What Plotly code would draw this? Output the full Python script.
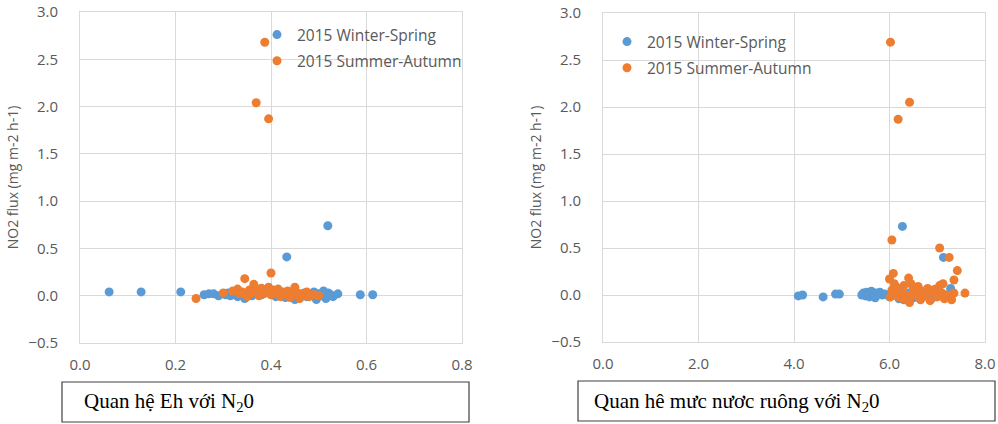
import plotly.graph_objects as go

# ---------------- data ----------------
# Left panel: Eh vs NO2 flux
eh_ws_x = [0.061, 0.128, 0.211, 0.433, 0.519, 0.587, 0.613,
           0.26, 0.27, 0.28, 0.29, 0.30, 0.305, 0.31, 0.315, 0.32, 0.325, 0.33, 0.34,
           0.345, 0.35, 0.36, 0.37, 0.38, 0.39, 0.40, 0.41, 0.42, 0.43, 0.44, 0.45,
           0.455, 0.46, 0.47, 0.475, 0.48, 0.49, 0.495, 0.50, 0.505, 0.51, 0.515,
           0.52, 0.525, 0.53, 0.54]
eh_ws_y = [0.04, 0.04, 0.04, 0.41, 0.74, 0.01, 0.01,
           0.01, 0.02, 0.02, 0.00, 0.02, 0.01, 0.03, 0.00, 0.02, 0.01, -0.01, 0.02,
           -0.03, 0.01, 0.00, 0.03, 0.01, 0.06, 0.02, -0.01, 0.03, -0.02, 0.01, -0.04,
           0.02, -0.02, 0.03, -0.01, 0.00, 0.04, -0.04, 0.02, 0.00, 0.05, -0.03,
           0.03, 0.01, -0.01, 0.02]

eh_sa_x = [0.387, 0.369, 0.395, 0.40, 0.345, 0.364, 0.243,
           0.30, 0.32, 0.33, 0.335, 0.34, 0.35, 0.355, 0.36, 0.37, 0.375, 0.38, 0.385,
           0.39, 0.395, 0.40, 0.405, 0.41, 0.415, 0.42, 0.425, 0.43, 0.435, 0.44,
           0.445, 0.45, 0.455, 0.46, 0.465, 0.47, 0.475, 0.48, 0.49, 0.50]
eh_sa_y = [2.68, 2.04, 1.87, 0.24, 0.18, 0.12, -0.03,
           0.03, 0.05, 0.07, 0.02, 0.04, -0.01, 0.06, 0.03, 0.05, 0.00, 0.08, 0.02,
           0.04, 0.09, 0.01, 0.06, 0.03, 0.07, -0.01, 0.04, 0.02, 0.05, -0.02,
           0.01, 0.09, 0.03, -0.03, 0.02, 0.00, 0.04, -0.01, 0.01, 0.00]

# Right panel: field water level vs NO2 flux
wl_ws_x = [4.09, 4.18, 4.61, 4.87, 4.95, 5.42, 5.45, 5.50, 5.52, 5.55, 5.58, 5.60,
           5.62, 5.65, 5.70, 5.72, 5.80, 5.85, 5.90, 6.00, 6.10, 6.20, 6.27, 6.30,
           6.40, 6.50, 6.60, 6.70, 6.80, 6.90, 7.00, 7.13, 7.20, 7.28, 7.30]
wl_ws_y = [-0.01, 0.00, -0.02, 0.01, 0.01, 0.00, 0.02, -0.01, 0.03, 0.00, -0.02, 0.02,
           0.04, 0.00, -0.03, 0.02, 0.03, 0.00, 0.01, -0.02, 0.00, -0.04, 0.73, -0.05,
           0.02, -0.03, 0.01, -0.02, 0.00, -0.03, 0.02, 0.40, 0.00, 0.07, 0.01]

wl_sa_x = [6.02, 6.18, 6.42, 6.05, 7.05, 7.25, 7.42, 7.35, 7.58,
           6.00, 6.05, 6.08, 6.10, 6.12, 6.15, 6.20, 6.25, 6.30, 6.35, 6.40, 6.42,
           6.45, 6.50, 6.55, 6.60, 6.65, 6.70, 6.75, 6.80, 6.85, 6.90, 6.95, 7.00,
           7.05, 7.10, 7.15, 7.20, 7.30, 7.35, 6.02, 6.28, 6.48, 6.62, 6.78, 7.12]
wl_sa_y = [2.69, 1.87, 2.05, 0.585, 0.50, 0.40, 0.26, 0.16, 0.02,
           0.17, 0.05, 0.23, 0.12, 0.00, 0.08, -0.02, 0.04, 0.10, 0.00, 0.18, -0.08,
           0.12, 0.06, 0.02, 0.09, -0.05, 0.04, 0.00, 0.07, -0.06, 0.03, 0.06, -0.02,
           0.10, 0.02, -0.04, 0.00, -0.05, 0.02, -0.02, -0.04, 0.00, -0.03, 0.05, 0.12]

series_names = ["2015 Winter-Spring", "2015 Summer-Autumn"]
y_title = "NO2 flux (mg m-2 h-1)"
caption_left = "Quan hệ Eh với N<sub>2</sub>0"
caption_right = "Quan hê mưc nươc ruông với N<sub>2</sub>0"

# ---------------- figure ----------------
W, H = 998, 424
BLUE = "#5B9BD5"
ORANGE = "#ED7D31"
GRID = "#D9D9D9"
TXT = "#595959"

def px_x(p):
    return p / W

def px_y(p):
    return 1 - p / H

fig = go.Figure()
marker_kw = dict(size=9, line=dict(width=0))

fig.add_trace(go.Scatter(x=eh_ws_x, y=eh_ws_y, mode="markers", name=series_names[0],
                         marker=dict(color=BLUE, **marker_kw), xaxis="x", yaxis="y",
                         legend="legend", legendgroup="a"))
fig.add_trace(go.Scatter(x=eh_sa_x, y=eh_sa_y, mode="markers", name=series_names[1],
                         marker=dict(color=ORANGE, **marker_kw), xaxis="x", yaxis="y",
                         legend="legend", legendgroup="b"))
fig.add_trace(go.Scatter(x=wl_ws_x, y=wl_ws_y, mode="markers", name=series_names[0],
                         marker=dict(color=BLUE, **marker_kw), xaxis="x2", yaxis="y2",
                         legend="legend2", legendgroup="c"))
fig.add_trace(go.Scatter(x=wl_sa_x, y=wl_sa_y, mode="markers", name=series_names[1],
                         marker=dict(color=ORANGE, **marker_kw), xaxis="x2", yaxis="y2",
                         legend="legend2", legendgroup="d"))

tick_font = dict(family="Open Sans", size=15, color=TXT)
axis_common = dict(showgrid=True, gridcolor=GRID, gridwidth=1, zeroline=True,
                   zerolinecolor=GRID, zerolinewidth=1, showline=True, mirror=True,
                   linecolor=GRID, linewidth=1, ticks="", tickfont=tick_font,
                   tickformat=".1f", fixedrange=True, automargin=False)

title_font = dict(family="Open Sans", size=14, color=TXT)

fig.update_layout(
    width=W, height=H,
    margin=dict(l=0, r=0, t=0, b=0, autoexpand=False),
    paper_bgcolor="white", plot_bgcolor="white",
    xaxis=dict(domain=[px_x(80), px_x(462)], range=[0, 0.8], dtick=0.2,
               anchor="y", ticklabelstandoff=8, **axis_common),
    yaxis=dict(domain=[px_y(343), px_y(12)], range=[-0.5, 3.0], dtick=0.5,
               anchor="x", ticklabelstandoff=18,
               title=dict(text=y_title, font=title_font, standoff=6),
               **axis_common),
    xaxis2=dict(domain=[px_x(603), px_x(985)], range=[0, 8], dtick=2,
                anchor="y2", ticklabelstandoff=8, **axis_common),
    yaxis2=dict(domain=[px_y(342), px_y(13)], range=[-0.5, 3.0], dtick=0.5,
                anchor="x2", ticklabelstandoff=18,
                title=dict(text=y_title, font=title_font, standoff=6),
                **axis_common),
    legend=dict(x=px_x(257), y=px_y(18), xanchor="left", yanchor="top",
                bgcolor="rgba(0,0,0,0)", font=dict(family="Open Sans", size=15.5, color=TXT),
                tracegroupgap=3, itemwidth=30),
    legend2=dict(x=px_x(607), y=px_y(25), xanchor="left", yanchor="top",
                 bgcolor="rgba(0,0,0,0)", font=dict(family="Open Sans", size=15.5, color=TXT),
                 tracegroupgap=3, itemwidth=30),
    shapes=[
        dict(type="rect", xref="paper", yref="paper",
             x0=px_x(62), x1=px_x(469), y0=px_y(422), y1=px_y(382),
             line=dict(color="#404040", width=1.2), fillcolor="white"),
        dict(type="rect", xref="paper", yref="paper",
             x0=px_x(578), x1=px_x(995), y0=px_y(421), y1=px_y(381),
             line=dict(color="#404040", width=1.2), fillcolor="white"),
    ],
    annotations=[
        dict(text=caption_left, xref="paper", yref="paper", x=px_x(82), y=px_y(402),
             xanchor="left", yanchor="middle", showarrow=False,
             font=dict(family="Liberation Serif", size=21, color="black")),
        dict(text=caption_right, xref="paper", yref="paper", x=px_x(592), y=px_y(402),
             xanchor="left", yanchor="middle", showarrow=False,
             font=dict(family="Liberation Serif", size=21, color="black")),
    ],
)

fig.write_html("out.html")
